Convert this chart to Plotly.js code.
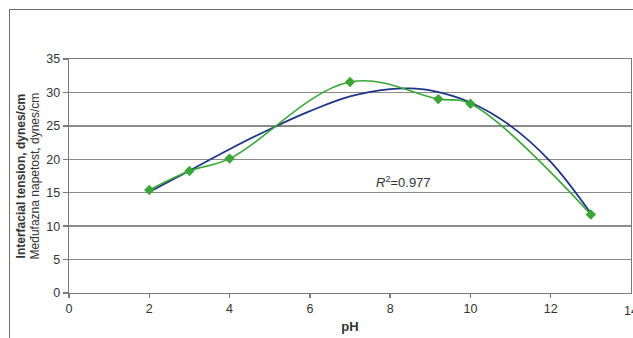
<!DOCTYPE html>
<html>
<head>
<meta charset="utf-8">
<script src="https://cdn.plot.ly/plotly-3.0.1.min.js"></script>
<style>
body{margin:0;padding:0;background:#fff;overflow:hidden;}
#frame{position:absolute;left:9px;top:9px;width:700px;height:400px;border:1px solid #6e6e6e;box-sizing:border-box;pointer-events:none;z-index:5;}
#chart{position:absolute;left:0;top:0;width:633px;height:338px;}
</style>
</head>
<body>
<div id="chart"></div>
<div id="frame"></div>
<script>
// Measured data (green, smoothed line with diamond markers)
var phData = [2, 3, 4, 7, 9.2, 10, 13];
var tensionData = [15.4, 18.25, 20.1, 31.55, 29.0, 28.3, 11.75];

// Polynomial trendline (blue)
var phTrend = [2, 3, 4, 5, 6, 7, 8, 8.5, 9, 10, 11, 12, 13];
var tensionTrend = [15.1, 18.3, 21.5, 24.5, 27.2, 29.4, 30.5, 30.6, 30.3, 28.5, 25.0, 19.6, 11.9];

var xTicks = [0, 2, 4, 6, 8, 10, 12, 14];
var yTicks = [0, 5, 10, 15, 20, 25, 30, 35];

var traces = [
  {
    x: phTrend, y: tensionTrend, type: 'scatter', mode: 'lines',
    line: {color: '#1f3585', width: 1.8, shape: 'spline', smoothing: 1},
    hoverinfo: 'skip', showlegend: false
  },
  {
    x: phData, y: tensionData, type: 'scatter', mode: 'lines+markers',
    line: {color: '#3aa637', width: 1.6, shape: 'spline', smoothing: 1.1},
    marker: {symbol: 'diamond', size: 8, color: '#3aa637'},
    showlegend: false
  }
];

var plotW = 633 - 68.6 - 2;
function px(p) { return (p - 68.6) / plotW; }

var layout = {
  width: 633, height: 338,
  margin: {l: 68.6, r: 2, t: 59, b: 45},
  paper_bgcolor: '#fff', plot_bgcolor: '#fff',
  font: {family: 'Liberation Sans, Arial, sans-serif', size: 12, color: '#333'},
  showlegend: false,
  xaxis: {
    range: [0, 14], tickvals: xTicks.slice(0, 7), ticktext: xTicks.slice(0, 7).map(String),
    showgrid: false, zeroline: false,
    showline: true, linecolor: '#7a7a7a', linewidth: 1.3, mirror: true,
    ticks: 'outside', ticklen: 4, tickcolor: '#7a7a7a', tickwidth: 1.3,
    tickfont: {size: 12.5, color: '#333'},
    title: {text: '<b>pH</b>', font: {size: 13, color: '#333'}, standoff: 6}
  },
  yaxis: {
    range: [0, 35], tickvals: yTicks, ticktext: yTicks.map(String),
    showgrid: true, gridcolor: '#8a8a8a', gridwidth: 1.3,
    zeroline: false,
    showline: true, linecolor: '#7a7a7a', linewidth: 1.3, mirror: true,
    ticks: 'outside', ticklen: 5, tickcolor: '#7a7a7a', tickwidth: 1.3,
    tickfont: {size: 12.5, color: '#333'}
  },
  annotations: [
    {
      xref: 'paper', yref: 'paper', x: px(21), y: 0.5,
      xanchor: 'center', yanchor: 'middle', textangle: -90, showarrow: false,
      text: '<b>Interfacial tension, dynes/cm</b>',
      font: {size: 12, color: '#333'}
    },
    {
      xref: 'paper', yref: 'paper', x: px(35), y: 0.5,
      xanchor: 'center', yanchor: 'middle', textangle: -90, showarrow: false,
      text: 'Međufazna napetost, dynes/cm',
      font: {size: 12, color: '#333'}
    },
    {
      xref: 'x', yref: 'paper', x: xTicks[7], y: 0, yshift: -9,
      xanchor: 'center', yanchor: 'top', showarrow: false,
      text: String(xTicks[7]),
      font: {size: 12.5, color: '#333'}
    },
    {
      xref: 'x', yref: 'y', x: 8.33, y: 16.6, showarrow: false,
      xanchor: 'center', yanchor: 'middle',
      text: '<i>R</i><sup>2</sup>=0.977',
      font: {size: 13, color: '#333'}
    }
  ]
};

Plotly.newPlot('chart', traces, layout, {staticPlot: true, displayModeBar: false});
</script>
</body>
</html>
